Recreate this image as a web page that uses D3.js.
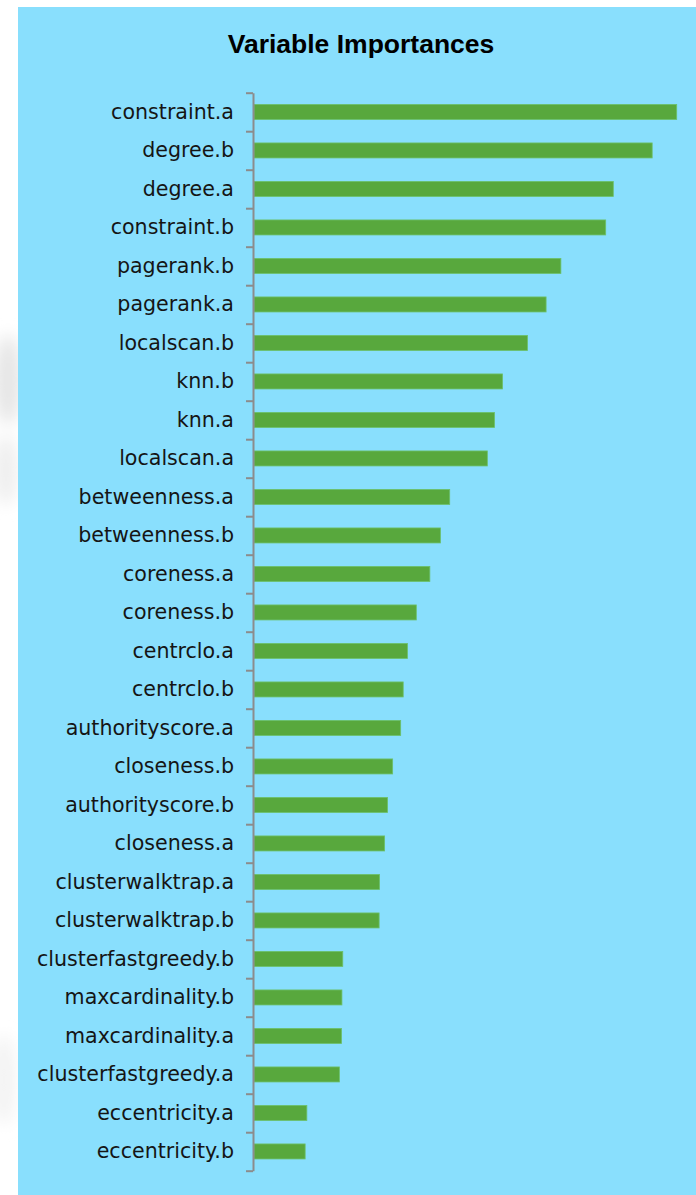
<!DOCTYPE html>
<html>
<head>
<meta charset="utf-8">
<script src="https://cdn.jsdelivr.net/npm/d3@7"></script>
<style>
  html, body { margin: 0; padding: 0; background: #ffffff; }
  svg { display: block; }
</style>
</head>
<body>
<svg id="chart" width="696" height="1195"></svg>
<script>
const categories = [
  "constraint.a", "degree.b", "degree.a", "constraint.b", "pagerank.b", "pagerank.a",
  "localscan.b", "knn.b", "knn.a", "localscan.a", "betweenness.a", "betweenness.b",
  "coreness.a", "coreness.b", "centrclo.a", "centrclo.b", "authorityscore.a", "closeness.b",
  "authorityscore.b", "closeness.a", "clusterwalktrap.a", "clusterwalktrap.b",
  "clusterfastgreedy.b", "maxcardinality.b", "maxcardinality.a", "clusterfastgreedy.a",
  "eccentricity.a", "eccentricity.b"
];
const importances = [
  100, 94.2, 85.0, 83.2, 72.6, 69.1,
  64.7, 58.8, 56.9, 55.2, 46.3, 44.1,
  41.6, 38.4, 36.3, 35.3, 34.7, 32.8,
  31.6, 30.9, 29.7, 29.6,
  21.0, 20.8, 20.7, 20.2,
  12.5, 12.1
];
const chartTitle = "Variable Importances";

const svg = d3.select("#chart");

// decorative faint background on the left margin
const defs = svg.append("defs");
const blur = defs.append("filter").attr("id", "blur").attr("x", "-50%").attr("y", "-50%").attr("width", "200%").attr("height", "200%");
blur.append("feGaussianBlur").attr("stdDeviation", 8);
const deco = svg.append("g").attr("filter", "url(#blur)");
deco.append("ellipse").attr("cx", 8).attr("cy", 380).attr("rx", 14).attr("ry", 45).attr("fill", "#e6e6e6");
deco.append("ellipse").attr("cx", 6).attr("cy", 470).attr("rx", 12).attr("ry", 35).attr("fill", "#eeeeee");
deco.append("ellipse").attr("cx", 4).attr("cy", 1080).attr("rx", 12).attr("ry", 45).attr("fill", "#f3f3f3");

// panel
svg.append("rect")
  .attr("x", 18).attr("y", 7).attr("width", 696 - 18).attr("height", 1195 - 7)
  .attr("fill", "#89DFFD");

svg.append("text")
  .attr("x", 361).attr("y", 53)
  .attr("text-anchor", "middle")
  .attr("font-family", "'Liberation Sans', Arial, sans-serif")
  .attr("font-weight", "bold")
  .attr("font-size", 26.5)
  .attr("fill", "#000")
  .text(chartTitle);

const yTop = 92.7, yBottom = 1170.7;
const x0 = 254, x1 = 676.7;

const x = d3.scaleLinear().domain([0, 100]).range([x0, x1]);
const y = d3.scaleBand().domain(categories).range([yTop, yBottom])
  .paddingInner(0.61).paddingOuter(0.305);
const yTick = d3.scaleLinear().domain([0, categories.length]).range([yTop, yBottom]);

// bars
svg.append("g").selectAll("rect")
  .data(categories)
  .join("rect")
  .attr("x", x(0))
  .attr("y", (d) => y(d))
  .attr("width", (d, i) => x(importances[i]) - x(0))
  .attr("height", y.bandwidth())
  .attr("fill", "#58A83D")
  .attr("stroke", "#6CC06A")
  .attr("stroke-width", 0.8);

// axis with ticks between categories
const axisG = svg.append("g")
  .attr("transform", `translate(${x0 - 1},0)`)
  .call(d3.axisLeft(yTick).tickValues(d3.range(categories.length + 1)).tickFormat("").tickSize(7).tickSizeOuter(0));
axisG.selectAll("path, line").attr("stroke", "#8C8C8C").attr("stroke-width", 2);

// labels
const labelG = svg.append("g")
  .attr("transform", `translate(${x0 - 20},0)`)
  .call(d3.axisLeft(y).tickSize(0).tickPadding(0));
labelG.select(".domain").remove();
labelG.selectAll("text")
  .attr("font-family", "'DejaVu Sans', sans-serif")
  .attr("font-size", 20.6)
  .attr("fill", "#151515");
</script>
</body>
</html>
